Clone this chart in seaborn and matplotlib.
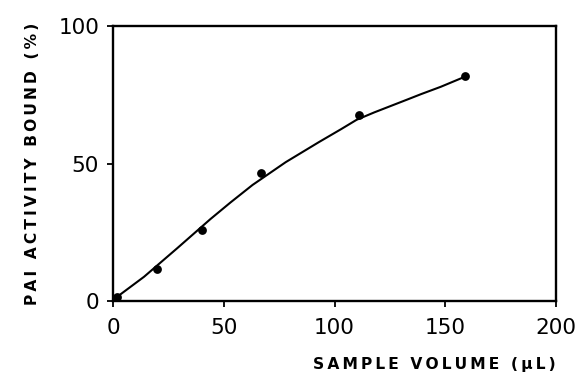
import numpy as np
import seaborn as sns
import matplotlib.pyplot as plt

# Measured points (sample volume in uL, PAI activity bound in %)
volume = [2, 20, 40, 67, 111, 159]
bound = [1.5, 11.5, 25.7, 46.7, 67.5, 81.8]

# Fitted curve
curve_x = [0, 3, 14, 29, 44, 53, 63, 78, 93, 103, 110, 118, 133, 139, 148, 159]
curve_y = [0, 2.2, 8.8, 19.2, 29.8, 35.8, 42.2, 50.5, 57.8, 62.5, 65.9, 68.6,
           73.3, 75.2, 77.9, 81.6]

x_ticks = [0, 50, 100, 150, 200]
y_ticks = [0, 50, 100]

x_label = "SAMPLE VOLUME (\u00b5L)"
y_label = "PAI ACTIVITY BOUND (%)"


def spaced(s):
    # wide letter spacing as in the original figure
    return "\u2009".join(s)


sns.set_style("ticks")
plt.rcParams['font.family'] = ['DejaVu Sans']

fig = plt.figure(figsize = (5.82, 3.82), dpi = 100)
ax = fig.add_axes([113 / 582, 81 / 382, 443 / 582, 275 / 382])

sns.lineplot(x = curve_x, y = curve_y, color = "black", linewidth = 1.5, ax = ax)
sns.scatterplot(x = volume, y = bound, color = "black", s = 40,
                edgecolor = "black", linewidth = 0, ax = ax, zorder = 3)

ax.set_xlim(0, 200)
ax.set_ylim(0, 100)
ax.set_xticks(x_ticks)
ax.set_yticks(y_ticks)
ax.tick_params(axis = "both", direction = "out", length = 4, width = 1.3,
               labelsize = 15.5, color = "black", labelcolor = "black")
ax.tick_params(axis = "x", pad = 8)
ax.tick_params(axis = "y", pad = 6)

for side in ["left", "right", "top", "bottom"]:
    ax.spines[side].set_visible(True)
    ax.spines[side].set_linewidth(1.7)
    ax.spines[side].set_color("black")

ax.set_xlabel(spaced(x_label), fontsize = 11.2, fontweight = "bold",
              color = "black", loc = "right", labelpad = 14)
ax.set_ylabel(spaced(y_label), fontsize = 11.2, fontweight = "bold",
              color = "black", labelpad = 13)

fig.savefig("out.png", dpi = 100)
